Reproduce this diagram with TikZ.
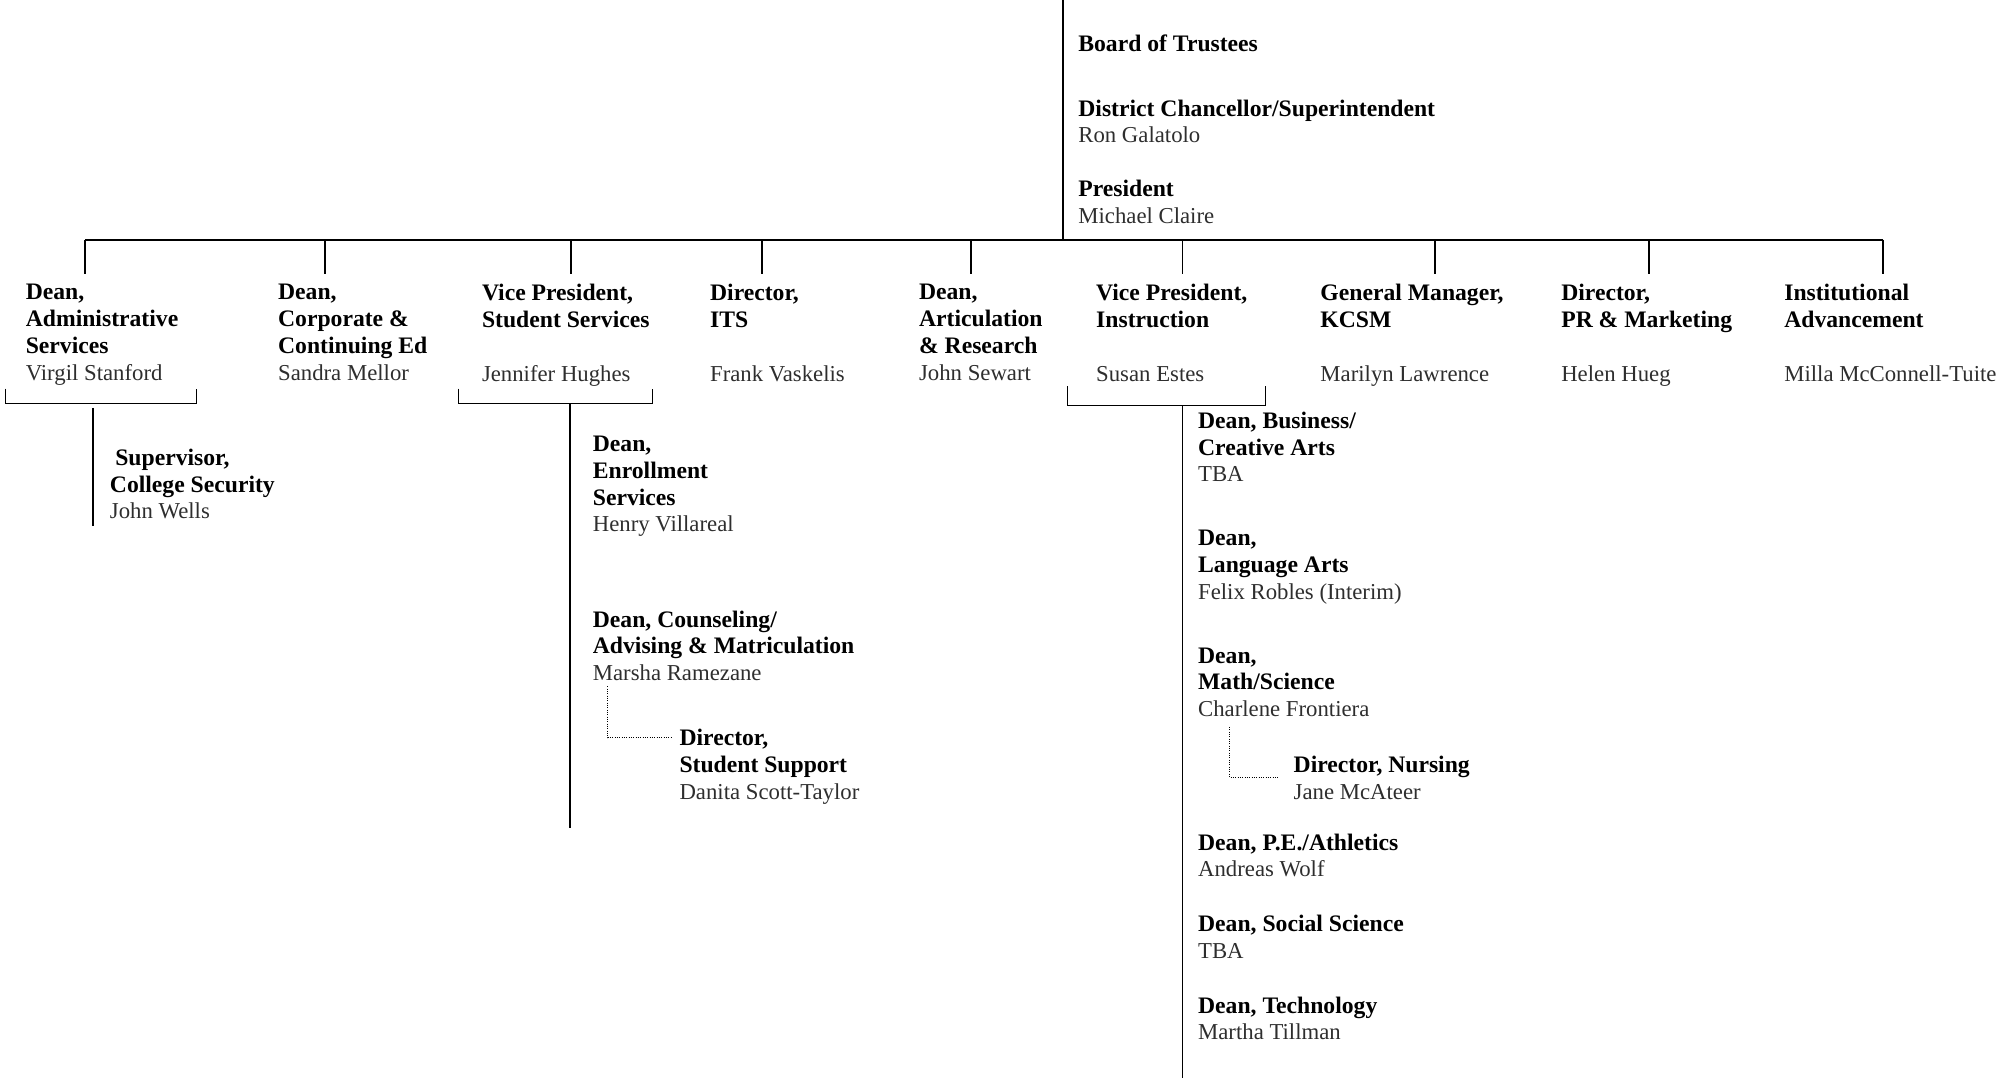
\documentclass[tikz,border=0pt]{standalone}
\usepackage{fontspec}
\setmainfont{Liberation Serif}
\usepackage{tikz}
\definecolor{namegray}{HTML}{2E2E2E}
\newcommand{\who}[1]{{\color{namegray}#1}}
\newcommand{\role}[1]{{\fontsize{13.2}{14.94}\selectfont\bfseries #1}}
\tikzset{trunk/.style={line width=1.1pt},
  bracket/.style={line width=0.6pt},
  dotlink/.style={line width=0.6pt, dash pattern=on 0.6pt off 0.7pt},
  post/.style={anchor=north west, inner sep=0pt, align=left,
    font=\fontsize{12.7}{14.94}\selectfont}}

\begin{document}
\begin{tikzpicture}[x=0.025cm, y=-0.025cm]
\useasboundingbox (0,0) rectangle (1568,846);

% top of the chart
\node[post] (bot) at (846,27) {\role{Board of Trustees}};
\node[post] (chan) at (846,78) {\role{District Chancellor/Superintendent}\\\who{Ron Galatolo}};
\node[post] (pres) at (846,141) {\role{President}\\\who{Michael Claire}};

\coordinate (top) at (834,0);
\coordinate (hub) at (834,188);
\draw[trunk] (top) -- (hub);

% second row
\node[post] (dAdm) at (20,223) {\role{Dean,}\\\role{Administrative}\\\role{Services}\\\who{Virgil Stanford}};
\node[post] (dCorp) at (218,223) {\role{Dean,}\\\role{Corporate \&}\\\role{Continuing Ed}\\\who{Sandra Mellor}};
\node[post] (vpSS) at (378,223) {\role{Vice President,}\\\role{Student Services}\\[14.94pt]\who{Jennifer Hughes}};
\node[post] (dirITS) at (557,223) {\role{Director,}\\\role{ITS}\\[14.94pt]\who{Frank Vaskelis}};
\node[post] (dArt) at (721,223) {\role{Dean,}\\\role{Articulation}\\\role{\& Research}\\\who{John Sewart}};
\node[post] (vpIns) at (860,223) {\role{Vice President,}\\\role{Instruction}\\[14.94pt]\who{Susan Estes}};
\node[post] (gmK) at (1036,223) {\role{General Manager,}\\\role{KCSM}\\[14.94pt]\who{Marilyn Lawrence}};
\node[post] (dirPR) at (1225,223) {\role{Director,}\\\role{PR \& Marketing}\\[14.94pt]\who{Helen Hueg}};
\node[post] (instAdv) at (1400,223) {\role{Institutional}\\\role{Advancement}\\[14.94pt]\who{Milla McConnell-Tuite}};

\foreach \n/\x in {dAdm/67, dCorp/255, vpSS/448, dirITS/598, dArt/762,
    vpIns/928, gmK/1126, dirPR/1294, instAdv/1478}
  \coordinate (\n-in) at (\x,215);
\draw[trunk] (dAdm-in |- hub) -- (instAdv-in |- hub);
\foreach \n in {dAdm, dCorp, vpSS, dirITS, dArt, vpIns, gmK, dirPR, instAdv}
  \draw[trunk] (\n-in |- hub) -- (\n-in);

% brackets under the heads
\draw[bracket] (4,305) |- (154,317) -- (154,305);
\draw[bracket] (360,305) |- (512,317) -- (512,305);
\draw[bracket] (838,303) |- (993,318) -- (993,303);

% administrative services
\coordinate (admDrop) at (73,320);
\coordinate (admEnd) at (73,413);
\draw[bracket] (admDrop) -- (admEnd);
\node[post] (supSec) at (86,352) {\role{\hspace*{3pt}Supervisor,}\\\role{College Security}\\\who{John Wells}};

% student services
\coordinate (ssDrop) at (447,317);
\coordinate (ssEnd) at (447,650);
\draw[trunk] (ssDrop) -- (ssEnd);
\node[post] (dEnr) at (465,342) {\role{Dean,}\\\role{Enrollment}\\\role{Services}\\\who{Henry Villareal}};
\node[post] (dCou) at (465,479) {\role{Dean, Counseling/}\\\role{Advising \& Matriculation}\\\who{Marsha Ramezane}};
\node[post] (dirSS) at (533,572) {\role{Director,}\\\role{Student Support}\\\who{Danita Scott-Taylor}};
\draw[dotlink] ([xshift=0.3cm,yshift=-0.1cm]dCou.south west)
  |- ([xshift=-0.15cm,yshift=-0.175cm]dirSS.north west);

% instruction
\coordinate (insDrop) at (928,318);
\coordinate (insEnd) at (928,846);
\draw[trunk] (insDrop) -- (insEnd);
\node[post] (dBus) at (940,323) {\role{Dean, Business/}\\\role{Creative Arts}\\\who{TBA}};
\node[post] (dLang) at (940,416) {\role{Dean,}\\\role{Language Arts}\\\who{Felix Robles (Interim)}};
\node[post] (dMath) at (940,508) {\role{Dean,}\\\role{Math/Science}\\\who{Charlene Frontiera}};
\node[post] (dirNur) at (1015,593) {\role{Director, Nursing}\\\who{Jane McAteer}};
\draw[dotlink] ([xshift=0.625cm,yshift=-0.19cm]dMath.south west)
  |- ([xshift=-0.3cm,yshift=-0.425cm]dirNur.north west);
\node[post] (dPE) at (940,654) {\role{Dean, P.E./Athletics}\\\who{Andreas Wolf}};
\node[post] (dSoc) at (940,718) {\role{Dean, Social Science}\\\who{TBA}};
\node[post] (dTech) at (940,782) {\role{Dean, Technology}\\\who{Martha Tillman}};
\end{tikzpicture}
\end{document}
